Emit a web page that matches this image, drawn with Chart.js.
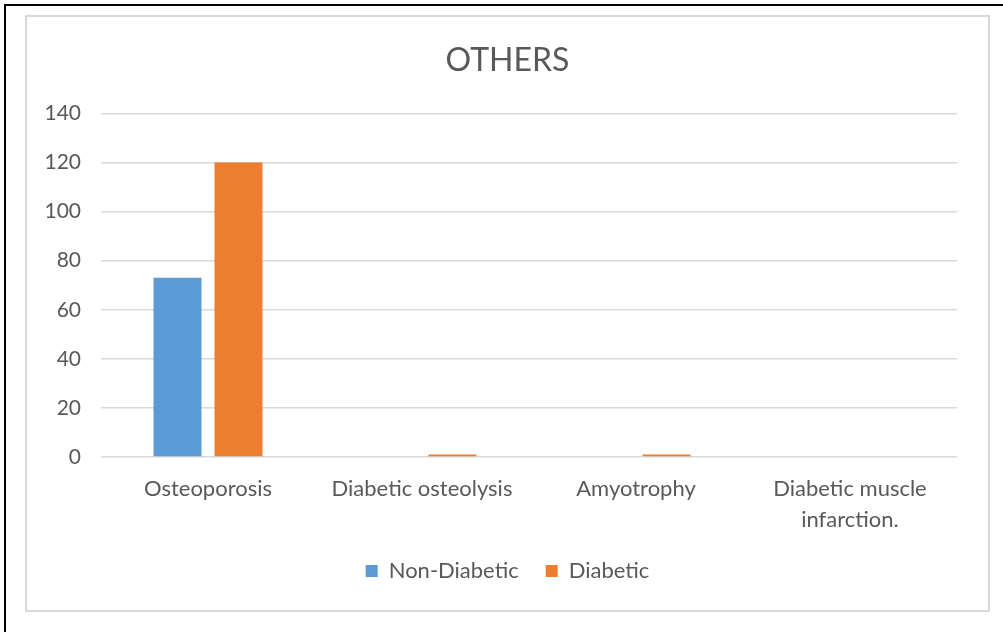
<!DOCTYPE html>
<html>
<head>
<meta charset="utf-8">
<title>OTHERS</title>
<script src="https://cdn.jsdelivr.net/npm/chart.js@4.4.1/dist/chart.umd.min.js"></script>
<style>
  html, body { margin: 0; padding: 0; background: #ffffff; }
  body { width: 1003px; height: 632px; position: relative; overflow: hidden; }
  .frame {
    position: absolute; left: 4px; top: 4px; right: -10px; bottom: -10px;
    border-left: 2px solid #000000; border-top: 2px solid #000000;
  }
  .box {
    position: absolute; left: 25px; top: 15px; width: 961px; height: 593px;
    border: 2px solid #d9d9d9; background: #ffffff;
  }
  canvas { display: block; }
</style>
</head>
<body>
<div class="frame"></div>
<div class="box"><canvas id="chart" width="961" height="593"></canvas></div>
<script>
// Categories and series
const categories = [
  'Osteoporosis',
  'Diabetic osteolysis',
  'Amyotrophy',
  ['Diabetic muscle', 'infarction.']
];
const nonDiabetic = [73, 0, 0, 0];
const diabetic = [120, 1, 1, 0];
const yTicks = { min: 0, max: 140, step: 20 };

const textColor = '#595959';
const gridColor = '#d9d9d9';
Chart.defaults.font.family = 'Lato, "Open Sans", sans-serif';
Chart.defaults.color = textColor;

new Chart(document.getElementById('chart'), {
  type: 'bar',
  data: {
    labels: categories,
    datasets: [
      { label: 'Non-Diabetic', data: nonDiabetic, backgroundColor: '#5b9bd5', borderWidth: 0 },
      { label: 'Diabetic', data: diabetic, backgroundColor: '#ed7d31', borderWidth: 0 }
    ]
  },
  options: {
    responsive: false,
    animation: false,
    events: [],
    categoryPercentage: 0.57,
    barPercentage: 0.787,
    layout: { padding: { left: 0, right: 0, top: 0, bottom: 18 } },
    plugins: {
      title: {
        display: true,
        text: 'OTHERS',
        color: textColor,
        font: { size: 32, weight: 'normal' },
        padding: { top: 24, bottom: 34 }
      },
      legend: {
        position: 'bottom',
        labels: {
          color: textColor,
          font: { size: 22 },
          boxWidth: 12,
          boxHeight: 12,
          padding: 27
        }
      },
      tooltip: { enabled: false }
    },
    scales: {
      x: {
        grid: { display: false },
        border: { display: false },
        ticks: {
          color: textColor,
          font: { size: 22, lineHeight: 1.38 },
          padding: 9,
          maxRotation: 0,
          autoSkip: false
        },
        afterFit(scale) { scale.height = 76; }
      },
      y: {
        min: yTicks.min,
        max: yTicks.max,
        grid: { color: gridColor, lineWidth: 1.5, drawTicks: false },
        border: { display: false },
        ticks: {
          stepSize: yTicks.step,
          color: textColor,
          font: { size: 21 },
          padding: 20
        },
        afterFit(scale) { scale.width = 74; }
      },
      // empty right-hand margin so the plot ends short of the frame
      yRight: {
        type: 'linear',
        position: 'right',
        grid: { display: false },
        border: { display: false },
        ticks: { display: false },
        afterFit(scale) { scale.width = 31; }
      }
    }
  }
});
</script>
</body>
</html>
